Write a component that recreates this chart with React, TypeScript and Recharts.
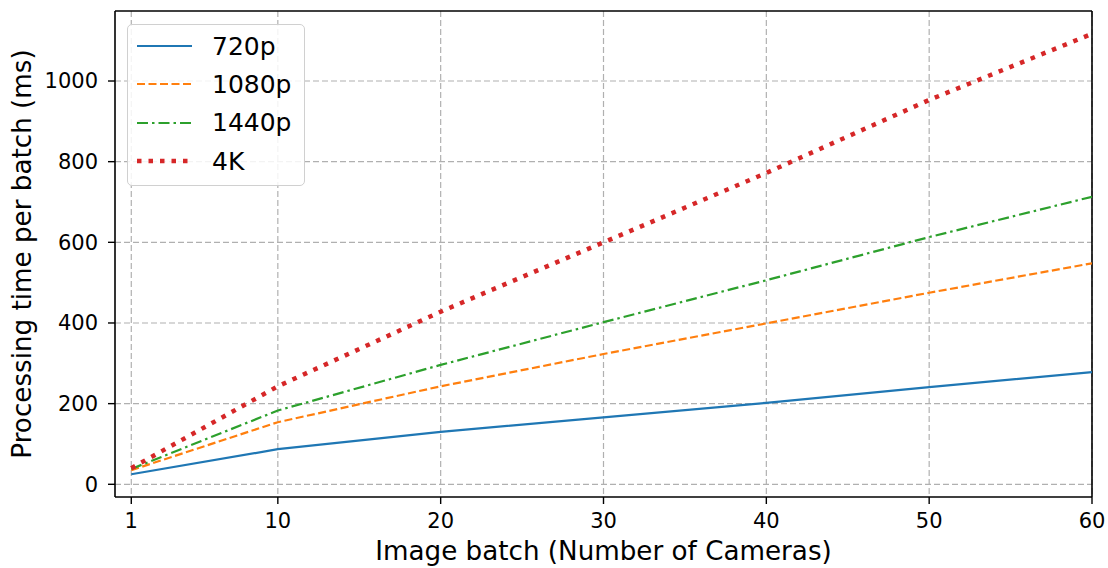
import { LineChart, Line, XAxis, YAxis, CartesianGrid, ReferenceLine } from 'recharts';

const batches = [1, 10, 20, 30, 40, 50, 60];
const ms720 = [25, 87, 130, 166, 202, 241, 278];
const ms1080 = [35, 154, 243, 323, 399, 475, 548];
const ms1440 = [38, 183, 296, 402, 506, 613, 713];
const ms4k = [40, 243, 428, 600, 772, 953, 1117];

const xTicks = [1, 10, 20, 30, 40, 50, 60];
const yTicks = [0, 200, 400, 600, 800, 1000];

const data = batches.map((b, i) => ({
  batch: b,
  p720: ms720[i],
  p1080: ms1080[i],
  p1440: ms1440[i],
  k4: ms4k[i],
}));

const series = [
  { key: 'p720', name: '720p', color: '#1f77b4', width: 2.2, dash: undefined as string | undefined },
  { key: 'p1080', name: '1080p', color: '#ff7f0e', width: 2.2, dash: '8 3.5' },
  { key: 'p1440', name: '1440p', color: '#2ca02c', width: 2.2, dash: '11 4 2.5 4' },
  { key: 'k4', name: '4K', color: '#d62728', width: 4.5, dash: '4.5 7' },
];

const FONT = '"DejaVu Sans", sans-serif';

function LegendBox() {
  return (
    <div
      style={{
        position: 'absolute',
        left: 127,
        top: 24,
        width: 178,
        height: 162,
        border: '1.5px solid #d0d0d0',
        borderRadius: 5,
        background: 'rgba(255,255,255,0.85)',
        boxSizing: 'border-box',
        fontFamily: FONT,
        fontSize: 25,
        paddingTop: 2,
      }}
    >
      {series.map((s) => (
        <div key={s.key} style={{ display: 'flex', alignItems: 'center', height: 38.3 }}>
          <svg width={84} height={20} style={{ flex: 'none' }}>
            <line x1={9} x2={64} y1={10} y2={10} stroke={s.color} strokeWidth={s.width}
              strokeDasharray={s.dash} />
          </svg>
          <span style={{ color: '#000' }}>{s.name}</span>
        </div>
      ))}
    </div>
  );
}

export default function App() {
  return (
    <div style={{ position: 'absolute', left: 0, top: 0, width: 1108, height: 568, background: '#fff' }}>
      <LineChart width={1108} height={568} data={data}
        margin={{ top: 11, right: 16, bottom: 0, left: 0 }}>
        <CartesianGrid stroke="#b0b0b0" strokeDasharray="6 3" strokeWidth={1.2}
          verticalValues={xTicks} horizontalValues={yTicks} />
        <XAxis dataKey="batch" type="number" domain={[0, 60]} ticks={xTicks} height={71}
          allowDataOverflow stroke="#000" strokeWidth={1.6} tickSize={7} tickMargin={9}
          tick={{ fill: '#000', fontSize: 21, fontFamily: FONT }}
          tickLine={{ stroke: '#000', strokeWidth: 1.4 }}
          label={{ value: 'Image batch (Number of Cameras)', position: 'insideBottom', offset: 8,
            fill: '#000', fontSize: 26.2, fontFamily: FONT }} />
        <YAxis type="number" domain={[-31.5, 1173.6]} ticks={yTicks} width={115}
          allowDataOverflow stroke="#000" strokeWidth={1.6} tickSize={7} tickMargin={10}
          tick={{ fill: '#000', fontSize: 21, fontFamily: FONT }}
          tickLine={{ stroke: '#000', strokeWidth: 1.4 }}
          label={{ value: 'Processing time per batch (ms)', angle: -90, position: 'insideLeft', offset: 22,
            fill: '#000', fontSize: 26.2, fontFamily: FONT, style: { textAnchor: 'middle' } }} />
        <ReferenceLine x={60} stroke="#000" strokeWidth={1.6} ifOverflow="extendDomain" />
        <ReferenceLine y={1173.6} stroke="#000" strokeWidth={1.6} ifOverflow="extendDomain" />
        {series.map((s) => (
          <Line key={s.key} dataKey={s.key} name={s.name} type="linear" stroke={s.color}
            strokeWidth={s.width} strokeDasharray={s.dash} dot={false} activeDot={false}
            isAnimationActive={false} />
        ))}
      </LineChart>
      <LegendBox />
    </div>
  );
}
